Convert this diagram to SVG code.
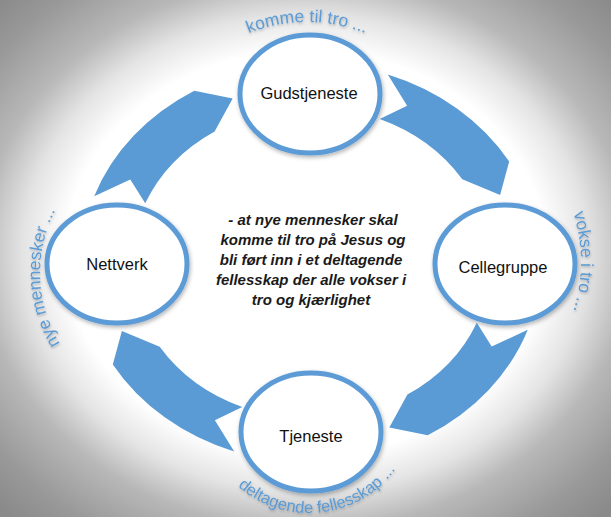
<svg xmlns="http://www.w3.org/2000/svg" width="611" height="517" viewBox="0 0 611 517">
  <defs>
    <radialGradient id="bg" cx="50%" cy="49%" r="70%">
      <stop offset="0" stop-color="#ffffff"/>
      <stop offset="0.56" stop-color="#ffffff"/>
      <stop offset="0.66" stop-color="#e4e4e4"/>
      <stop offset="0.76" stop-color="#b8b8b8"/>
      <stop offset="0.9" stop-color="#999999"/>
      <stop offset="1" stop-color="#8a8a8a"/>
    </radialGradient>
    <filter id="sh" x="-20%" y="-20%" width="140%" height="140%">
      <feDropShadow dx="1" dy="2" stdDeviation="2" flood-color="#000" flood-opacity="0.3"/>
    </filter>
    <filter id="tsh" x="-20%" y="-20%" width="140%" height="140%">
      <feDropShadow dx="0.5" dy="1.5" stdDeviation="1.2" flood-color="#000" flood-opacity="0.25"/>
    </filter>
    <path id="pTop" d="M171.9,100 A156,156 0 0 1 442.1,100"/>
    <path id="pLeft" d="M111.1,391.3 A134,134 0 0 1 103,159.4"/>
    <path id="pRight" d="M500.5,122.6 A161,161 0 0 1 500.5,401.4"/>
    <path id="pBottom" d="M203,425.6 A108,108 0 0 0 417,403.1"/>
  </defs>
  <style>
    .arrow { fill: #5b9bd5; }
    .node ellipse { fill: #ffffff; stroke: #5b9bd5; stroke-width: 5; filter: url(#sh); }
    .label { font-family: "Liberation Sans", Arial, sans-serif; font-size: 16.5px; fill: #111111; text-anchor: middle; }
    .arc { font-family: "Liberation Sans", Arial, sans-serif; font-size: 17.5px; fill: #5b9bd5; filter: url(#tsh); }
    .center { font-family: "Liberation Sans", Arial, sans-serif; font-size: 15px; font-weight: bold; font-style: italic; fill: #1a1a1a; text-anchor: middle; }
  </style>
  <rect x="0" y="0" width="611" height="517" fill="url(#bg)"/>

  <g id="arc-texts">
    <text class="arc"><textPath href="#pTop" startOffset="50%" text-anchor="middle">komme til tro ...</textPath></text>
    <text class="arc"><textPath href="#pLeft" startOffset="50%" text-anchor="middle">nye mennesker ...</textPath></text>
    <text class="arc"><textPath href="#pRight" startOffset="50%" text-anchor="middle">vokse i tro ...</textPath></text>
    <text class="arc" style="font-size:16.5px"><textPath href="#pBottom" startOffset="50%" text-anchor="middle">deltagende fellesskap ...</textPath></text>
  </g>

  <g id="connectors">
    <path class="arrow" d="M94.2,196.2 A230,200 0 0 1 194.3,90.7 L232.7,98.5 L214.6,131.4 A179.4,156 0 0 0 145.2,203.3 L130.3,179.4 Z"/>
    <path class="arrow" d="M387.8,74.5 A230,200 0 0 1 509.2,161.5 L500.1,194.9 L462.3,179.2 A179.4,156 0 0 0 379.7,118.9 L407.1,105.8 Z"/>
    <path class="arrow" d="M527.8,329.8 A230,200 0 0 1 427.7,435.3 L389.3,427.5 L407.4,394.6 A179.4,156 0 0 0 476.8,322.7 L491.7,346.6 Z"/>
    <path class="arrow" d="M234.2,451.5 A230,200 0 0 1 112.8,364.5 L121.9,331.1 L159.7,346.8 A179.4,156 0 0 0 242.3,407.1 L214.9,420.2 Z"/>
  </g>

  <g id="node-gudstjeneste" class="node">
    <ellipse cx="310" cy="94" rx="70" ry="59"/>
    <text class="label" x="309" y="99">Gudstjeneste</text>
  </g>
  <g id="node-nettverk" class="node">
    <ellipse cx="117" cy="264" rx="70" ry="59"/>
    <text class="label" x="117" y="270">Nettverk</text>
  </g>
  <g id="node-cellegruppe" class="node">
    <ellipse cx="505" cy="264" rx="70" ry="59"/>
    <text class="label" x="503" y="273">Cellegruppe</text>
  </g>
  <g id="node-tjeneste" class="node">
    <ellipse cx="311" cy="432" rx="70" ry="59"/>
    <text class="label" x="311" y="442">Tjeneste</text>
  </g>

  <g id="center-text">
    <text class="center" x="313" y="225">- at nye mennesker skal</text>
    <text class="center" x="313" y="245">komme til tro på Jesus og</text>
    <text class="center" x="311" y="265">bli ført inn i et deltagende</text>
    <text class="center" x="311" y="285">fellesskap der alle vokser i</text>
    <text class="center" x="311" y="305">tro og kjærlighet</text>
  </g>
</svg>
